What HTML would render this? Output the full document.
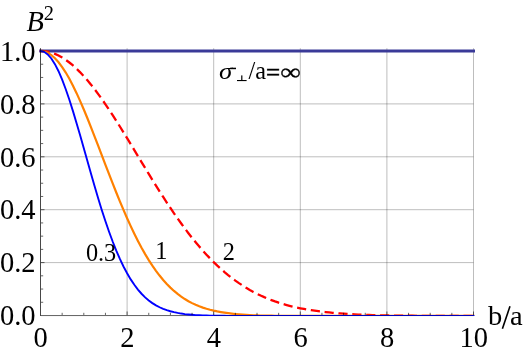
<!DOCTYPE html>
<html><head><meta charset="utf-8"><style>
html,body{margin:0;padding:0;background:#fff;overflow:hidden;}
svg{display:block;font-family:"Liberation Serif",serif;will-change:transform;}
</style></head><body>
<svg width="523" height="353" viewBox="0 0 523 353">
<defs>
<clipPath id="c315"><rect x="0" y="0" width="523" height="315"/></clipPath>
<clipPath id="c314"><rect x="0" y="0" width="523" height="314.75"/></clipPath>
<clipPath id="c316"><rect x="0" y="0" width="523" height="316"/></clipPath>
</defs>
<rect width="523" height="353" fill="#fff"/>
<g stroke="#000" stroke-opacity="0.26" stroke-width="1" fill="none"><line x1="127.10" y1="48.20" x2="127.10" y2="315.50"/><line x1="213.70" y1="48.20" x2="213.70" y2="315.50"/><line x1="300.30" y1="48.20" x2="300.30" y2="315.50"/><line x1="386.90" y1="48.20" x2="386.90" y2="315.50"/><line x1="473.50" y1="48.20" x2="473.50" y2="315.50"/><line x1="40.50" y1="262.60" x2="473.50" y2="262.60"/><line x1="40.50" y1="209.70" x2="473.50" y2="209.70"/><line x1="40.50" y1="156.80" x2="473.50" y2="156.80"/><line x1="40.50" y1="103.90" x2="473.50" y2="103.90"/><line x1="40.50" y1="51.00" x2="473.50" y2="51.00"/></g>
<line x1="41.0" y1="315.55" x2="474.0" y2="315.55" stroke="#000" stroke-opacity="0.62"/>
<path d="M39.30,51.00 L475.00,51.00" stroke="#3a3a98" stroke-width="3" fill="none"/>
<g clip-path="url(#c315)">
<path d="M40.50,51.00 L44.11,51.18 L47.72,51.73 L51.33,52.65 L54.93,53.92 L58.54,55.55 L62.15,57.53 L65.76,59.85 L69.37,62.50 L72.97,65.47 L76.58,68.74 L80.19,72.32 L83.80,76.17 L87.41,80.29 L91.02,84.66 L94.62,89.26 L98.23,94.08 L101.84,99.10 L105.45,104.29 L109.06,109.65 L112.67,115.15 L116.27,120.77 L119.88,126.50 L123.49,132.32 L127.10,138.20 L130.71,144.13 L134.32,150.10 L137.93,156.07 L141.53,162.05 L145.14,168.00 L148.75,173.92 L152.36,179.80 L155.97,185.60 L159.57,191.34 L163.18,196.98 L166.79,202.53 L170.40,207.96 L174.01,213.28 L177.62,218.47 L181.22,223.52 L184.83,228.43 L188.44,233.19 L192.05,237.80 L195.66,242.25 L199.27,246.55 L202.88,250.68 L206.48,254.65 L210.09,258.46 L213.70,262.10 L217.31,265.58 L220.92,268.89 L224.52,272.05 L228.13,275.05 L231.74,277.89 L235.35,280.59 L238.96,283.13 L242.57,285.53 L246.17,287.80 L249.78,289.92 L253.39,291.92 L257.00,293.79 L260.61,295.54 L264.22,297.17 L267.82,298.70 L271.43,300.11 L275.04,301.43 L278.65,302.66 L282.26,303.79 L285.87,304.84 L289.48,305.81 L293.08,306.70 L296.69,307.52 L300.30,308.27 L303.91,308.97 L307.52,309.60 L311.12,310.18 L314.73,310.71 L318.34,311.19 L321.95,311.63 L325.56,312.03 L329.17,312.40 L332.77,312.78 L336.38,313.12 L339.99,313.42 L343.60,313.70 L347.21,313.95 L350.82,314.17 L354.42,314.38 L358.03,314.56 L361.64,314.72 L365.25,314.86 L368.86,314.99 L372.47,315.10 L376.07,315.21 L379.68,315.30 L383.29,315.38 L386.90,315.45 L390.51,315.51 L394.12,315.57 L397.72,315.62 L401.33,315.66 L404.94,315.70 L408.55,315.73 L412.16,315.76 L415.77,315.78 L419.38,315.81 L422.98,315.83 L426.59,315.84 L430.20,315.86 L433.81,315.87 L437.42,315.88 L441.02,315.89 L444.63,315.90 L448.24,315.91 L451.85,315.91 L455.46,315.92 L459.07,315.92 L462.67,315.93 L466.28,315.93 L469.89,315.93 L473.50,315.94" stroke="#ff0000" stroke-width="2.3" fill="none" stroke-dasharray="9.2 4.7"/>
</g>
<g clip-path="url(#c315)">
<path d="M40.50,51.00 L44.11,51.46 L47.72,52.83 L51.33,55.10 L54.93,58.25 L58.54,62.23 L62.15,67.03 L65.76,72.57 L69.37,78.82 L72.97,85.70 L76.58,93.16 L80.19,101.12 L83.80,109.51 L87.41,118.26 L91.02,127.29 L94.62,136.53 L98.23,145.91 L101.84,155.35 L105.45,164.79 L109.06,174.17 L112.67,183.42 L116.27,192.50 L119.88,201.34 L123.49,209.92 L127.10,218.20 L130.71,226.13 L134.32,233.70 L137.93,240.89 L141.53,247.69 L145.14,254.08 L148.75,260.06 L152.36,265.63 L155.97,270.80 L159.57,275.57 L163.18,279.95 L166.79,283.96 L170.40,287.62 L174.01,290.94 L177.62,293.94 L181.22,296.64 L184.83,299.05 L188.44,301.21 L192.05,303.13 L195.66,304.83 L199.27,306.32 L202.88,307.64 L206.48,308.79 L210.09,309.79 L213.70,310.66 L217.31,311.41 L220.92,312.05 L224.52,312.65 L228.13,313.19 L231.74,313.65 L235.35,314.04 L238.96,314.37 L242.57,314.65 L246.17,314.88 L249.78,315.07 L253.39,315.23 L257.00,315.37 L260.61,315.48 L264.22,315.57 L267.82,315.64 L271.43,315.70 L275.04,315.75 L278.65,315.79 L282.26,315.83 L285.87,315.85 L289.48,315.87 L293.08,315.89 L296.69,315.90 L300.30,315.91 L303.91,315.92 L307.52,315.93 L311.12,315.93 L314.73,315.94 L318.34,315.94 L321.95,315.94 L325.56,315.94 L329.17,315.95 L332.77,315.95 L336.38,315.95 L339.99,315.95 L343.60,315.95 L347.21,315.95 L350.82,315.95 L354.42,315.95 L358.03,315.95 L361.64,315.95 L365.25,315.95 L368.86,315.95 L372.47,315.95 L376.07,315.95 L379.68,315.95 L383.29,315.95 L386.90,315.95 L390.51,315.95 L394.12,315.95 L397.72,315.95 L401.33,315.95 L404.94,315.95 L408.55,315.95 L412.16,315.95 L415.77,315.95 L419.38,315.95 L422.98,315.95 L426.59,315.95 L430.20,315.95 L433.81,315.95 L437.42,315.95 L441.02,315.95 L444.63,315.95 L448.24,315.95 L451.85,315.95 L455.46,315.95 L459.07,315.95 L462.67,315.95 L466.28,315.95 L469.89,315.95 L473.50,315.95" stroke="#ff8000" stroke-width="2.2" fill="none" stroke-linecap="square"/>
</g>
<g clip-path="url(#c316)">
<path d="M40.50,51.00 L44.11,51.84 L47.72,54.35 L51.33,58.48 L54.93,64.14 L58.54,71.25 L62.15,79.66 L65.76,89.23 L69.37,99.78 L72.97,111.15 L76.58,123.16 L80.19,135.60 L83.80,148.31 L87.41,161.11 L91.02,173.83 L94.62,186.33 L98.23,198.48 L101.84,210.16 L105.45,221.27 L109.06,231.75 L112.67,241.53 L116.27,250.59 L119.88,258.90 L123.49,266.46 L127.10,273.28 L130.71,279.38 L134.32,284.79 L137.93,289.56 L141.53,293.73 L145.14,297.35 L148.75,300.46 L152.36,303.11 L155.97,305.37 L159.57,307.26 L163.18,308.84 L166.79,310.16 L170.40,311.24 L174.01,312.12 L177.62,312.91 L181.22,313.56 L184.83,314.08 L188.44,314.49 L192.05,314.82 L195.66,315.08 L199.27,315.28 L202.88,315.43 L206.48,315.55 L210.09,315.64 L213.70,315.71 L217.31,315.76 L220.92,315.80 L224.52,315.82 L228.13,315.85 L231.74,315.86 L235.35,315.87 L238.96,315.88 L242.57,315.89 L246.17,315.89 L249.78,315.89 L253.39,315.90 L257.00,315.90 L260.61,315.90 L264.22,315.90 L267.82,315.90 L271.43,315.90 L275.04,315.90 L278.65,315.90 L282.26,315.90 L285.87,315.90 L289.48,315.90 L293.08,315.90 L296.69,315.90 L300.30,315.90 L303.91,315.90 L307.52,315.90 L311.12,315.90 L314.73,315.90 L318.34,315.90 L321.95,315.90 L325.56,315.90 L329.17,315.90 L332.77,315.90 L336.38,315.90 L339.99,315.90 L343.60,315.90 L347.21,315.90 L350.82,315.90 L354.42,315.90 L358.03,315.90 L361.64,315.90 L365.25,315.90 L368.86,315.90 L372.47,315.90 L376.07,315.90 L379.68,315.90 L383.29,315.90 L386.90,315.90 L390.51,315.90 L394.12,315.90 L397.72,315.90 L401.33,315.90 L404.94,315.90 L408.55,315.90 L412.16,315.90 L415.77,315.90 L419.38,315.90 L422.98,315.90 L426.59,315.90 L430.20,315.90 L433.81,315.90 L437.42,315.90 L441.02,315.90 L444.63,315.90 L448.24,315.90 L451.85,315.90 L455.46,315.90 L459.07,315.90 L462.67,315.90 L466.28,315.90 L469.89,315.90 L473.50,315.90" stroke="#0000ff" stroke-width="1.9" fill="none" stroke-linecap="square"/>
<rect x="213.70" y="315" width="260.60" height="1" fill="#000" fill-opacity="0.25"/>
</g>
<g stroke="#000" fill="none" stroke-width="1">
<line x1="40.5" y1="48.2" x2="40.5" y2="316.0" stroke-opacity="0.72"/>
<g stroke-opacity="0.6"><line x1="62.15" y1="315.00" x2="62.15" y2="312.80"/><line x1="83.80" y1="315.00" x2="83.80" y2="312.80"/><line x1="105.45" y1="315.00" x2="105.45" y2="312.80"/><line x1="127.10" y1="315.00" x2="127.10" y2="311.50"/><line x1="148.75" y1="315.00" x2="148.75" y2="312.80"/><line x1="170.40" y1="315.00" x2="170.40" y2="312.80"/><line x1="192.05" y1="315.00" x2="192.05" y2="312.80"/><line x1="213.70" y1="315.00" x2="213.70" y2="311.50"/><line x1="235.35" y1="315.00" x2="235.35" y2="312.80"/><line x1="257.00" y1="315.00" x2="257.00" y2="312.80"/><line x1="278.65" y1="315.00" x2="278.65" y2="312.80"/><line x1="300.30" y1="315.00" x2="300.30" y2="311.50"/><line x1="321.95" y1="315.00" x2="321.95" y2="312.80"/><line x1="343.60" y1="315.00" x2="343.60" y2="312.80"/><line x1="365.25" y1="315.00" x2="365.25" y2="312.80"/><line x1="386.90" y1="315.00" x2="386.90" y2="311.50"/><line x1="408.55" y1="315.00" x2="408.55" y2="312.80"/><line x1="430.20" y1="315.00" x2="430.20" y2="312.80"/><line x1="451.85" y1="315.00" x2="451.85" y2="312.80"/><line x1="473.50" y1="315.00" x2="473.50" y2="311.50"/><line x1="41.00" y1="302.27" x2="43.20" y2="302.27"/><line x1="41.00" y1="289.05" x2="43.20" y2="289.05"/><line x1="41.00" y1="275.82" x2="43.20" y2="275.82"/><line x1="41.00" y1="262.60" x2="44.50" y2="262.60"/><line x1="41.00" y1="249.38" x2="43.20" y2="249.38"/><line x1="41.00" y1="236.15" x2="43.20" y2="236.15"/><line x1="41.00" y1="222.93" x2="43.20" y2="222.93"/><line x1="41.00" y1="209.70" x2="44.50" y2="209.70"/><line x1="41.00" y1="196.47" x2="43.20" y2="196.47"/><line x1="41.00" y1="183.25" x2="43.20" y2="183.25"/><line x1="41.00" y1="170.02" x2="43.20" y2="170.02"/><line x1="41.00" y1="156.80" x2="44.50" y2="156.80"/><line x1="41.00" y1="143.57" x2="43.20" y2="143.57"/><line x1="41.00" y1="130.35" x2="43.20" y2="130.35"/><line x1="41.00" y1="117.12" x2="43.20" y2="117.12"/><line x1="41.00" y1="103.90" x2="44.50" y2="103.90"/><line x1="41.00" y1="90.67" x2="43.20" y2="90.67"/><line x1="41.00" y1="77.45" x2="43.20" y2="77.45"/><line x1="41.00" y1="64.22" x2="43.20" y2="64.22"/><line x1="41.00" y1="51.00" x2="44.50" y2="51.00"/></g></g>
<g font-size="28.5px" fill="#000">
<text x="40.70" y="346.5" text-anchor="middle">0</text><text x="127.30" y="346.5" text-anchor="middle">2</text><text x="213.90" y="346.5" text-anchor="middle">4</text><text x="300.50" y="346.5" text-anchor="middle">6</text><text x="387.10" y="346.5" text-anchor="middle">8</text><text x="473.70" y="346.5" text-anchor="middle">10</text><text x="35.5" y="325.20" text-anchor="end">0.0</text><text x="35.5" y="272.30" text-anchor="end">0.2</text><text x="35.5" y="219.40" text-anchor="end">0.4</text><text x="35.5" y="166.50" text-anchor="end">0.6</text><text x="35.5" y="113.60" text-anchor="end">0.8</text><text x="35.5" y="60.70" text-anchor="end">1.0</text>
<text transform="translate(488.1,325.2) scale(1,0.945)">b</text>
<line x1="510.0" y1="306.2" x2="502.4" y2="328.7" stroke="#000" stroke-width="1.6"/>
<text transform="translate(509.9,325.2) scale(1,0.97)">a</text>
<text x="26.4" y="30.7" font-style="italic">B</text>
<text x="43.8" y="19.9" font-size="20.4px">2</text>
</g>
<g font-size="24.3px" fill="#000">
<text x="85.9" y="261.2">0.3</text>
<text x="155.3" y="258.5">1</text>
<text x="222.7" y="259.9">2</text>
</g>
<g font-size="24.3px" fill="#000">
<text transform="translate(219.1,78.9) scale(1.2,1)" x="0" y="0" font-style="italic" font-size="22.3px">σ</text>
<rect x="230.5" y="65" width="4.5" height="2.6" fill="#fff"/><rect x="230" y="67.7" width="6" height="1.5"/>
<rect x="237" y="80" width="9.6" height="1.1"/>
<rect x="241.2" y="75.4" width="1.2" height="5"/>
<text x="248.5" y="78.6">/a</text>
<text transform="translate(265.9,81.4) scale(1.03,1)" stroke="#000" stroke-width="0.55">=</text>
<text transform="translate(280.3,80.1) scale(1.2,1)" stroke="#000" stroke-width="0.3">∞</text>
</g>
</svg>
</body></html>
